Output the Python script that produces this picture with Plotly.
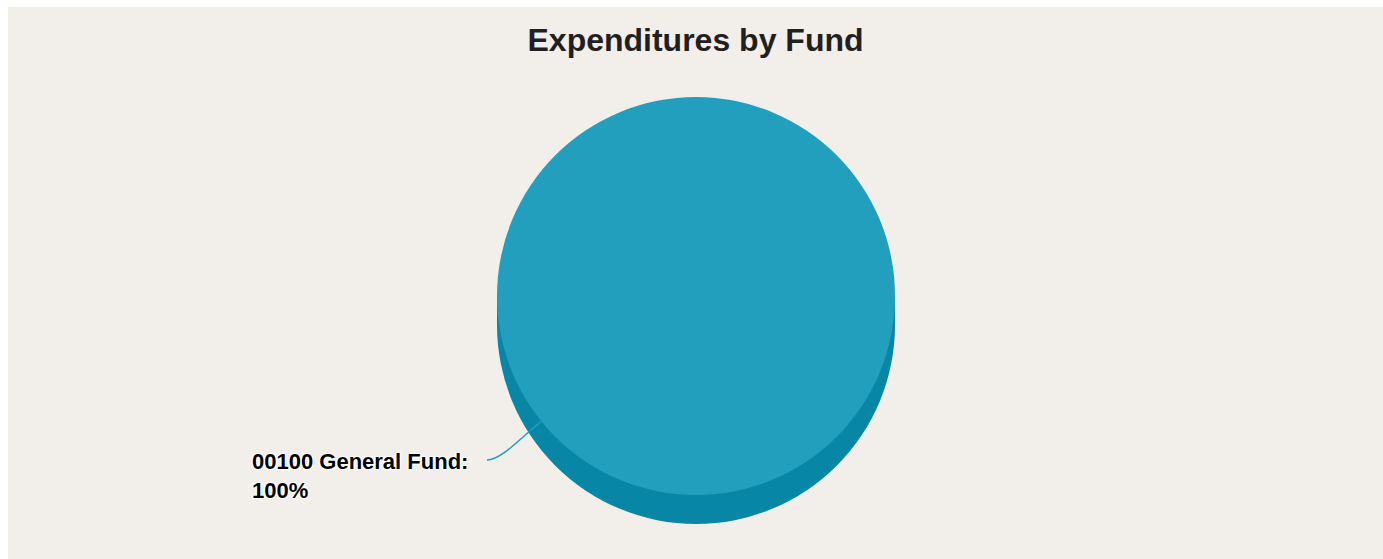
import math
import plotly.graph_objects as go

# Fund expenditure shares
funds = ["00100 General Fund"]
amounts = [100]

W, H = 1383, 559
BG = "#f2efeb"
TOP = "#229fbd"
SIDE = "#0886a5"

# Pie geometry in pixels
CX, CY, R = 696, 296, 199
DEPTH = 29


def px(x):
    return x / W


def py(y):
    return 1 - y / H


total = sum(amounts)
shares = [a / total * 100 for a in amounts]

fig = go.Figure()
fig.add_trace(go.Pie(
    labels=funds,
    values=amounts,
    sort=False,
    textinfo="none",
    hoverinfo="label+percent",
    marker=dict(colors=[TOP], line=dict(width=0)),
    showlegend=False,
    domain=dict(x=[px(CX - R), px(CX + R)], y=[py(CY + R), py(CY - R)]),
))

shapes = [
    # chart background panel
    dict(type="rect", xref="paper", yref="paper", x0=px(8), x1=1, y0=0, y1=py(7),
         fillcolor=BG, line=dict(width=0), layer="below"),
    # extruded side of the pie
    dict(type="rect", xref="paper", yref="paper",
         x0=px(CX - R), x1=px(CX + R), y0=py(CY + DEPTH), y1=py(CY),
         fillcolor=SIDE, line=dict(width=0), layer="below"),
    dict(type="circle", xref="paper", yref="paper",
         x0=px(CX - R), x1=px(CX + R), y0=py(CY + DEPTH + R), y1=py(CY + DEPTH - R),
         fillcolor=SIDE, line=dict(width=0), layer="below"),
]

# connector from the slice edge to its label
ang = math.radians(39)
ex, ey = CX - R * math.cos(ang), CY + R * math.sin(ang)
lx, ly = 487, 460
path = (f"M {px(lx)},{py(ly)} C {px(lx + 14)},{py(ly)} {px(ex - 22)},{py(ey + 18)} "
        f"{px(ex)},{py(ey)}")
shapes.append(dict(type="path", xref="paper", yref="paper", path=path,
                   line=dict(color=TOP, width=1.5), layer="above"))

outline = "1px 1px 1px #fff, -1px -1px 1px #fff, 1px -1px 1px #fff, -1px 1px 1px #fff"
label_text = "<br>".join(f"{f}:<br>{s:.0f}%" for f, s in zip(funds, shares))

fig.update_layout(
    width=W, height=H,
    margin=dict(l=0, r=0, t=0, b=0),
    paper_bgcolor="#ffffff",
    plot_bgcolor="#ffffff",
    shapes=shapes,
    title=dict(text="Expenditures by Fund", x=px(695.5), xanchor="center",
               y=py(40), yanchor="middle", yref="container",
               font=dict(family="Liberation Sans, Arial, sans-serif", size=32,
                         color="#231f20", weight=700)),
    annotations=[dict(
        text=label_text, xref="paper", yref="paper", x=px(250), y=py(476),
        xanchor="left", yanchor="middle", align="left", showarrow=False,
        font=dict(family="Liberation Sans, Arial, sans-serif", size=22,
                  color="#000000", weight=700, shadow=outline),
    )],
)

fig.write_html("out.html")
